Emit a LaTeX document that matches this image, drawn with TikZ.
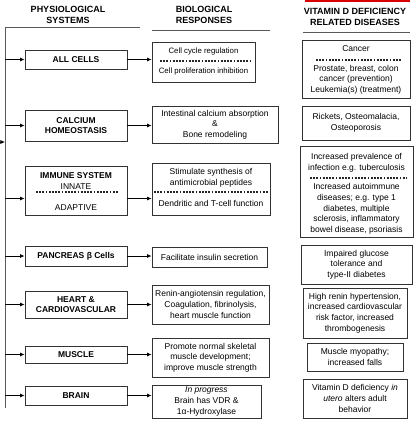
\documentclass[tikz,border=0pt]{standalone}
\usepackage{fontspec}
\setmainfont{Liberation Sans}
\usetikzlibrary{arrows.meta,calc}
\begin{document}
\begin{tikzpicture}[x=1pt,y=-1pt,
  box/.style={draw=black!80, line width=0.8pt, inner sep=0pt, align=center, font=\fontsize{8.5}{10.7}\selectfont},
  sys/.style={box, font=\fontsize{8.5}{10.7}\selectfont\bfseries, minimum width=102pt},
  txt/.style={inner sep=0pt, align=center, font=\fontsize{8.5}{10.7}\selectfont},
  small/.style={font=\fontsize{7.8}{10}\selectfont},
  hdr/.style={inner sep=0pt, align=center, font=\fontsize{9}{11.2}\selectfont\bfseries},
  sep/.style={line width=1.9pt, dash pattern=on 1.7pt off 1.5pt, black!85},
  arr/.style={-{Latex[length=4.5pt,width=4pt]}, line width=0.8pt},
  rulel/.style={line width=0.9pt, black!65}]
\useasboundingbox (0,0) rectangle (417,424);

% headers
\node[hdr] (h1) at (68,14.5) {PHYSIOLOGICAL\\SYSTEMS};
\node[hdr] (h2) at (204,14.5) {BIOLOGICAL\\RESPONSES};
\node[hdr] (h3) at (355,16.5) {VITAMIN D DEFICIENCY\\RELATED DISEASES};
\draw[line width=2pt, red!85!black] (305,1) -- (410,1);
\coordinate (sTop) at (5,27);
\coordinate (sBot) at (5,408);
\draw[rulel] (140,27) -- (sTop) -- (sBot);
\draw[rulel] (152,30) -- (270,30);
\draw[rulel] (303,32) -- (410,32);
\coordinate (inL) at (-1,142);
\draw[arr] (inL) -- (sTop |- inL);

% column 1
\node[sys, minimum height=19pt] (c1a) at (76,59.5) {ALL CELLS};
\node[sys, minimum height=31pt] (c1b) at (76,125.5) {CALCIUM\\HOMEOSTASIS};
\node[sys, minimum height=49pt] (c1c) at (76,190.5) {};
\node[txt] (c1ct) at (76,181) {\textbf{IMMUNE SYSTEM}\\INNATE};
\node[txt] (c1cb) at (76,208) {ADAPTIVE};
\draw[sep] (36,192) -- (118,192);
\node[sys, minimum height=20pt] (c1d) at (76,256) {PANCREAS β Cells};
\node[sys, minimum height=27pt] (c1e) at (76,304.5) {HEART \&\\CARDIOVASCULAR};
\node[sys, minimum height=17pt] (c1f) at (76,354.5) {MUSCLE};
\node[sys, minimum height=19pt] (c1g) at (76,395.5) {BRAIN};

% column 2
\node[box, minimum width=103pt, minimum height=40pt] (c2a) at (203.5,62) {};
\node[txt, small] (c2at) at (203.5,51.5) {Cell cycle regulation};
\draw[sep] (160,61) -- (250,61);
\node[txt, small] (c2ab) at (203.5,71) {Cell proliferation inhibition};
\node[box, minimum width=126pt, minimum height=37pt] (c2b) at (215,124.5) {Intestinal calcium absorption\\\&\\Bone remodeling};
\node[box, minimum width=118pt, minimum height=52pt] (c2c) at (211,189) {};
\node[txt] (c2ct) at (211,178) {Stimulate synthesis of\\antimicrobial peptides};
\draw[sep] (154,192) -- (269,192);
\node[txt] (c2cb) at (211,203) {Dendritic and T-cell function};
\node[box, minimum width=115pt, minimum height=20pt] (c2d) at (209.5,257) {Facilitate insulin secretion};
\node[box, minimum width=117pt, minimum height=39pt] (c2e) at (210.5,304.5) {Renin-angiotensin regulation,\\Coagulation, fibrinolysis,\\heart muscle function};
\node[box, minimum width=117pt, minimum height=39pt] (c2f) at (210.5,357.5) {Promote normal skeletal\\muscle development;\\improve muscle strength};
\node[box, minimum width=109pt, minimum height=33pt] (c2g) at (206.5,401.5) {\textit{In progress}\\Brain has VDR \&\\1α-Hydroxylase};

% column 3
\node[box, minimum width=108pt, minimum height=58pt] (c3a) at (356,69) {};
\node[txt] (c3at) at (356,49) {Cancer};
\draw[sep] (316,60) -- (401,60);
\node[txt] (c3ab) at (356,79.6) {Prostate, breast, colon\\cancer (prevention)\\Leukemia(s) (treatment)};
\node[box, minimum width=108pt, minimum height=34pt] (c3b) at (356,123) {Rickets, Osteomalacia,\\Osteoporosis};
\node[box, minimum width=113pt, minimum height=91pt] (c3c) at (356.5,191.5) {};
\node[txt] (c3ct) at (356.5,163) {Increased prevalence of\\infection e.g. tuberculosis};
\draw[sep] (310,178) -- (407,178);
\node[txt] (c3cb) at (356.5,209) {Increased autoimmune\\diseases; e.g. type 1\\diabetes, multiple\\sclerosis, inflammatory\\bowel disease, psoriasis};
\node[box, minimum width=111pt, minimum height=39pt] (c3d) at (356.5,264.5) {Impaired glucose\\tolerance and\\type-II diabetes};
\node[box, minimum width=104pt, minimum height=50pt] (c3e) at (355,313) {High renin hypertension,\\increased cardiovascular\\risk factor, increased\\thrombogenesis};
\node[box, minimum width=96pt, minimum height=28pt] (c3f) at (355,357) {Muscle myopathy;\\increased falls};
\node[box, minimum width=104pt, minimum height=39pt] (c3g) at (355,398.5) {Vitamin D deficiency \textit{in}\\\textit{utero} alters adult\\behavior};

% arrows spine -> column 1 -> column 2
\foreach \n/\m in {c1a/c2a, c1b/c2b, c1d/c2d, c1e/c2e, c1f/c2f, c1g/c2g}{
  \draw[arr] (sTop |- \n.west) -- (\n.west);
  \draw[arr] (\n.east) -- (\n.east -| \m.west);
}
\coordinate (c1cL) at ([yshift=-8pt]c1c.west);
\coordinate (c1cR) at ([yshift=-8pt]c1c.east);
\draw[arr] (sTop |- c1cL) -- (c1cL);
\draw[arr] (c1cR) -- (c1cR -| c2c.west);
\end{tikzpicture}
\end{document}
